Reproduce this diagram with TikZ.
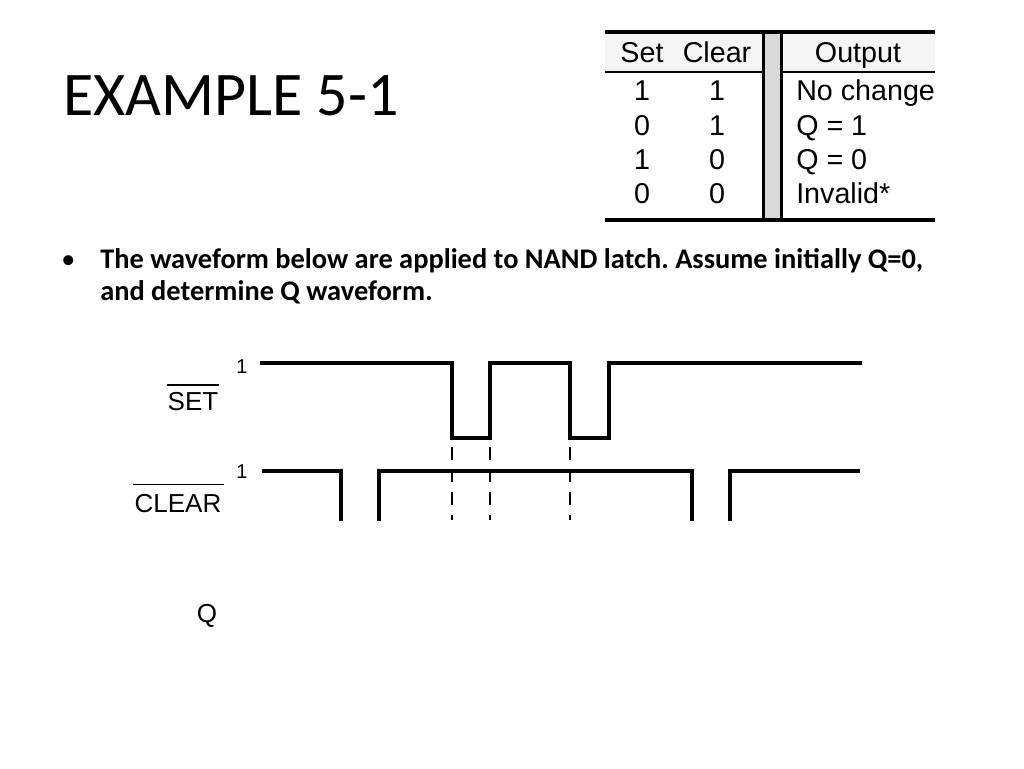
\documentclass[tikz,border=0pt]{standalone}
\usepackage{fontspec}
\setmainfont{Carlito}
\newfontfamily\helv{Liberation Sans}
\begin{document}
\frenchspacing
\begin{tikzpicture}[x=0.75pt,y=-0.75pt,
  wave/.style={line width=2.7pt, line join=miter, line cap=rect},
  guide/.style={line width=1.3pt, dash pattern=on 9.5pt off 7.5pt},
  rule/.style={line width=2pt},
  tabtxt/.style={font=\helv\fontsize{21.5}{24}\selectfont, inner sep=0pt},
  sig/.style={font=\helv\fontsize{19.5}{22}\selectfont, inner sep=0pt},
  one/.style={font=\helv\fontsize{15}{18}\selectfont, inner sep=0pt},
  ovl/.style={line width=1pt}]
\useasboundingbox[fill=white] (0,0) rectangle (1024,768);

% title
\node[anchor=base west, inner sep=0pt, font=\fontsize{46.5}{50}\selectfont] (title) at (63,115) {EXAMPLE 5-1};

% bullet
\node[anchor=base west, inner sep=0pt, font=\fontsize{21}{25}\selectfont] (bul) at (61,268) {\textbullet};
\node[anchor=base west, inner sep=0pt, font=\bfseries\fontsize{21.3}{25}\selectfont] (l1) at (100,268) {The waveform below are applied to NAND latch. Assume initially Q=0,};
\node[anchor=base west, inner sep=0pt, font=\bfseries\fontsize{21.3}{25}\selectfont] (l2) at (100,300) {and determine Q waveform.};

% table
\fill[gray!8] (605,33) rectangle (935,71);
\fill[gray!30] (763,32) rectangle (782,220);
\draw[line width=2.2pt] (763.5,32) -- (763.5,220);
\draw[line width=2.2pt] (781.5,32) -- (781.5,220);
\draw[line width=2.4pt] (605,32) -- (935,32);
\draw[rule] (605,72) -- (763,72);
\draw[rule] (782,72) -- (935,72);
\draw[line width=2.4pt] (605,220) -- (935,220);

\node[tabtxt, anchor=base] (hs) at (642,62) {Set};
\node[tabtxt, anchor=base] (hc) at (717,62) {Clear};
\node[tabtxt, anchor=base] (ho) at (858,62) {Output};

\node[tabtxt, anchor=base] (s1) at (642,100) {1};
\node[tabtxt, anchor=base] (c1) at (717,100) {1};
\node[tabtxt, anchor=base west] (o1) at (796,100) {No change};
\node[tabtxt, anchor=base] (s2) at (642,135) {0};
\node[tabtxt, anchor=base] (c2) at (717,135) {1};
\node[tabtxt, anchor=base west] (o2) at (796,135) {Q = 1};
\node[tabtxt, anchor=base] (s3) at (642,169) {1};
\node[tabtxt, anchor=base] (c3) at (717,169) {0};
\node[tabtxt, anchor=base west] (o3) at (796,169) {Q = 0};
\node[tabtxt, anchor=base] (s4) at (642,203) {0};
\node[tabtxt, anchor=base] (c4) at (717,203) {0};
\node[tabtxt, anchor=base west] (o4) at (796,203) {Invalid*};

% waveform labels
\node[one, anchor=base] (one1) at (242,373) {1};
\node[one, anchor=base] (one2) at (242,478) {1};
\node[sig, anchor=base] (setl) at (193,410) {SET};
\node[sig, anchor=base] (clrl) at (178,512) {CLEAR};
\node[sig, anchor=base] (ql) at (207,622) {Q};
\draw[ovl] ([yshift=5pt]setl.north west) -- ([yshift=5pt]setl.north east);
\draw[ovl] ([xshift=-1pt,yshift=7pt]clrl.north west) -- ([xshift=2pt,yshift=7pt]clrl.north east);

% waveforms
\draw[wave] (262,363) -- (452,363) -- (452,438) -- (490,438) -- (490,363) -- (570,363) -- (570,438) -- (609,438) -- (609,363) -- (860,363);
\draw[wave, line cap=butt] (262,471) -- (341,471) -- (341,521);
\draw[wave, line cap=butt] (379,521) -- (379,471) -- (692,471) -- (692,521);
\draw[wave, line cap=butt] (730,521) -- (730,471) -- (860,471);

% guides
\draw[guide] (452,447) -- (452,520);
\draw[guide] (490,447) -- (490,520);
\draw[guide] (570,447) -- (570,520);
\end{tikzpicture}
\end{document}
